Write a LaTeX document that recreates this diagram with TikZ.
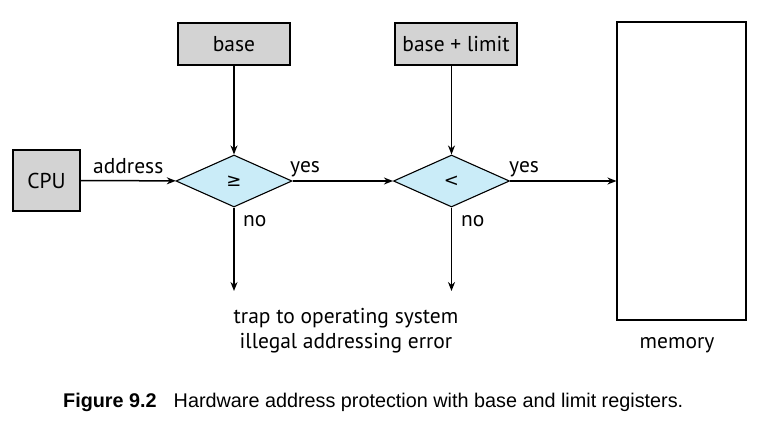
\documentclass[tikz,border=0pt]{standalone}
\usepackage{fontspec}
\setmainfont{PT Sans}
\newfontfamily\capfont{Liberation Sans}
\newfontfamily\symfont{DejaVu Sans}
\usepackage{tikz}
\usetikzlibrary{shapes.geometric,arrows.meta}
\definecolor{regfill}{RGB}{211,211,211}
\definecolor{testfill}{RGB}{202,236,248}
\begin{document}
\begin{tikzpicture}[x=1pt,y=-1pt,
  every node/.style={font=\fontsize{21.5}{25}\selectfont},
  reg/.style={draw,line width=1.1pt,fill=regfill,inner sep=0pt},
  test/.style={diamond,draw,line width=1.1pt,fill=testfill,inner sep=0pt,minimum width=116pt,minimum height=52pt},
  flow/.style={line width=1.5pt,-{Stealth[length=9pt,width=7pt]}},
  lbl/.style={inner sep=0pt,anchor=base west}]
\useasboundingbox (0,0) rectangle (776,423);
\node[reg,minimum width=67pt,minimum height=61pt] (cpu) at (46.5,180.5) {CPU};
\node[reg,minimum width=112pt,minimum height=42pt] (base) at (234,44) {base};
\node[reg,minimum width=122pt,minimum height=42pt] (limit) at (456,44) {base + limit};
\node[test] (ge) at (234,181) {\symfont\fontsize{18}{20}\selectfont ≥};
\node[test] (lt) at (451.5,181) {\symfont\fontsize{18}{20}\selectfont <};
\node[draw,line width=1.1pt,minimum width=129pt,minimum height=298pt,inner sep=0pt] (mem) at (681.5,171) {};
\coordinate (trapge) at (234,291);
\coordinate (traplt) at (451.5,291);
% connectors
\draw[flow] (cpu) -- (ge);
\draw[flow] (base) -- (ge);
\draw[flow] (lt.north |- limit.south) -- (lt);
\draw[flow] (ge) -- (lt);
\draw[flow] (lt.east) -- (lt.east -| mem.west);
\draw[flow] (ge.south) -- (trapge);
\draw[flow] (lt.south) -- (traplt);
% labels
\node[lbl] (addr) at (93,173) {address};
\node[lbl] (yesge) at (290,172) {yes};
\node[lbl] (yeslt) at (509,172) {yes};
\node[lbl] (noge) at (243,226) {no};
\node[lbl] (nolt) at (461,226) {no};
\node[inner sep=0pt,anchor=base] (trap) at (346,323) {trap to operating system};
\node[inner sep=0pt,anchor=base] (illegal) at (346,348) {illegal addressing error};
\node[inner sep=0pt,anchor=base] (memlbl) at (677,348) {memory};
\node[inner sep=0pt,anchor=base west,font=\capfont\fontsize{19.8}{23}\selectfont] (cap) at (63,407) {\textbf{Figure 9.2}\hspace{17pt}Hardware address protection with base and limit registers.};
\end{tikzpicture}
\end{document}
